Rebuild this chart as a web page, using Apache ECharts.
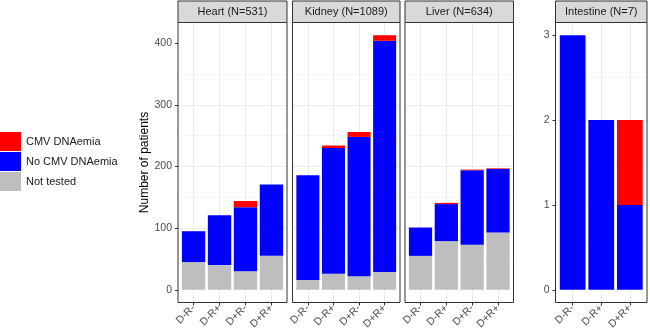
<!DOCTYPE html>
<html>
<head>
    <meta charset="utf-8"/>
    <title></title>
    <script src="https://cdn.jsdelivr.net/npm/echarts@6/dist/echarts.min.js"></script>
    <style>
        html, body { margin: 0; padding: 0; background: #fff; }
    </style>
</head>
<body>
<div id="main" style="width:650px;height:336px;"></div>
<script type="text/javascript">
    /* data */
    var categories = ['D-R-', 'D-R+', 'D+R-', 'D+R+'];
    var intestineCategories = ['D-R-', 'D-R+', 'D+R+'];
    var panelTitles = ['Heart (N=531)', 'Kidney (N=1089)', 'Liver (N=634)', 'Intestine (N=7)'];
    var seriesNames = ['CMV DNAemia', 'No CMV DNAemia', 'Not tested'];

    var heartNotTested = [45, 40, 30, 55];
    var heartNoCmv = [50, 81, 104, 116];
    var heartCmv = [0, 0, 10, 0];

    var kidneyNotTested = [16, 26, 22, 29];
    var kidneyNoCmv = [170, 204, 226, 375];
    var kidneyCmv = [0, 4, 8, 9];

    var liverNotTested = [55, 79, 73, 93];
    var liverNoCmv = [46, 60, 121, 103];
    var liverCmv = [0, 2, 1, 1];

    var intestineNotTested = [0, 0, 0];
    var intestineNoCmv = [3, 2, 1];
    var intestineCmv = [0, 0, 1];

    var organTicks = [0, 100, 200, 300, 400];
    var intestineTicks = [0, 1, 2, 3];

    /* layout */
    var FONT = 'Liberation Sans, Arial, sans-serif';
    var colors = {'CMV DNAemia': '#ff0000', 'No CMV DNAemia': '#0000ff', 'Not tested': '#bebebe'};
    var panelTop = 22.5, panelBottom = 302.5;
    var panels = [
        {left: 178, width: 109, cats: categories, nt: heartNotTested, no: heartNoCmv, cmv: heartCmv, ymax: 413, labels: true},
        {left: 292.5, width: 107.5, cats: categories, nt: kidneyNotTested, no: kidneyNoCmv, cmv: kidneyCmv, ymax: 413, labels: false},
        {left: 405, width: 108.5, cats: categories, nt: liverNotTested, no: liverNoCmv, cmv: liverCmv, ymax: 413, labels: false},
        {left: 555.5, width: 91.5, cats: intestineCategories, nt: intestineNotTested, no: intestineNoCmv, cmv: intestineCmv, ymax: 3, labels: true}
    ];

    var chart = echarts.init(document.getElementById('main'));
    var grid = [], xAxis = [], yAxis = [], series = [], graphic = [];

    panels.forEach(function (p, i) {
        var n = p.cats.length;
        var unit = p.width / (n - 1 + 1.2);      // ggplot discrete expansion 0.6 each side
        var pad = p.ymax * 0.05;
        var ymin = -pad, ymax = p.ymax + pad;
        var step = i === 3 ? 1 : 100;
        var ticks = i === 3 ? intestineTicks : organTicks;
        var h = panelBottom - panelTop;

        // frame grid: border + horizontal grid lines + y labels
        grid.push({left: p.left, top: panelTop, width: p.width, height: h, show: true,
            borderColor: '#333', borderWidth: 1, z: 5});
        xAxis.push({type: 'value', gridIndex: 2 * i, show: false, min: 0, max: 1});
        var ya = {
            type: 'value', gridIndex: 2 * i, min: ymin, max: ymax,
            minInterval: step, maxInterval: step,
            axisLine: {show: false},
            axisTick: {show: p.labels, length: 3, lineStyle: {color: '#333'}, customValues: ticks},
            axisLabel: {show: p.labels, color: '#4d4d4d', fontSize: 10.5, fontFamily: FONT, margin: 6,
                customValues: ticks},
            splitLine: {show: true, showMinLine: false, showMaxLine: false, lineStyle: {color: '#ebebeb', width: 1}},
            minorTick: {show: false, splitNumber: 2},
            minorSplitLine: {show: true, lineStyle: {color: '#f0f0f0', width: 0.6}}
        };
        if (i === 0) {
            ya.name = 'Number of patients';
            ya.nameLocation = 'middle';
            ya.nameGap = 21;
            ya.nameTextStyle = {fontSize: 12, color: '#000', fontFamily: FONT};
        }
        yAxis.push(ya);

        // data grid: from first to last category centre
        grid.push({left: p.left + 0.6 * unit, top: panelTop, width: (n - 1) * unit, height: h});
        xAxis.push({
            type: 'category', gridIndex: 2 * i + 1, data: p.cats, boundaryGap: false,
            axisLine: {show: false, onZero: false},
            axisTick: {show: true, length: 3, lineStyle: {color: '#333'}},
            axisLabel: {rotate: 45, margin: 4, color: '#4d4d4d', fontSize: 10.5, fontFamily: FONT, interval: 0},
            splitLine: {show: true, lineStyle: {color: '#ebebeb', width: 1}}
        });
        yAxis.push({type: 'value', gridIndex: 2 * i + 1, show: false, min: ymin, max: ymax,
            splitLine: {show: false}});

        [['Not tested', p.nt], ['No CMV DNAemia', p.no], ['CMV DNAemia', p.cmv]].forEach(function (s) {
            series.push({
                name: s[0], type: 'bar', stack: 'panel' + i,
                xAxisIndex: 2 * i + 1, yAxisIndex: 2 * i + 1,
                barWidth: '90%', data: s[1],
                itemStyle: {color: colors[s[0]]},
                emphasis: {disabled: true}
            });
        });

        // strip header
        graphic.push({type: 'rect', z: 10, shape: {x: p.left, y: 1, width: p.width, height: panelTop - 1},
            style: {fill: '#d9d9d9', stroke: '#333', lineWidth: 1}});
        graphic.push({type: 'text', z: 11, x: p.left + p.width / 2, y: (1 + panelTop) / 2 + 0.5,
            style: {text: panelTitles[i], align: 'center', verticalAlign: 'middle',
                fill: '#1a1a1a', font: '11px ' + FONT}});
    });

    var option = {
        animation: false,
        legend: {
            orient: 'vertical', left: 0, top: 132, padding: 0,
            itemWidth: 21, itemHeight: 19, itemGap: 1, icon: 'rect',
            textStyle: {fontSize: 11, color: '#1a1a1a', fontFamily: FONT},
            data: seriesNames, selectedMode: false
        },
        grid: grid,
        xAxis: xAxis,
        yAxis: yAxis,
        series: series,
        graphic: graphic
    };
    chart.setOption(option);
    window.onresize = chart.resize;
</script>
</body>
</html>
